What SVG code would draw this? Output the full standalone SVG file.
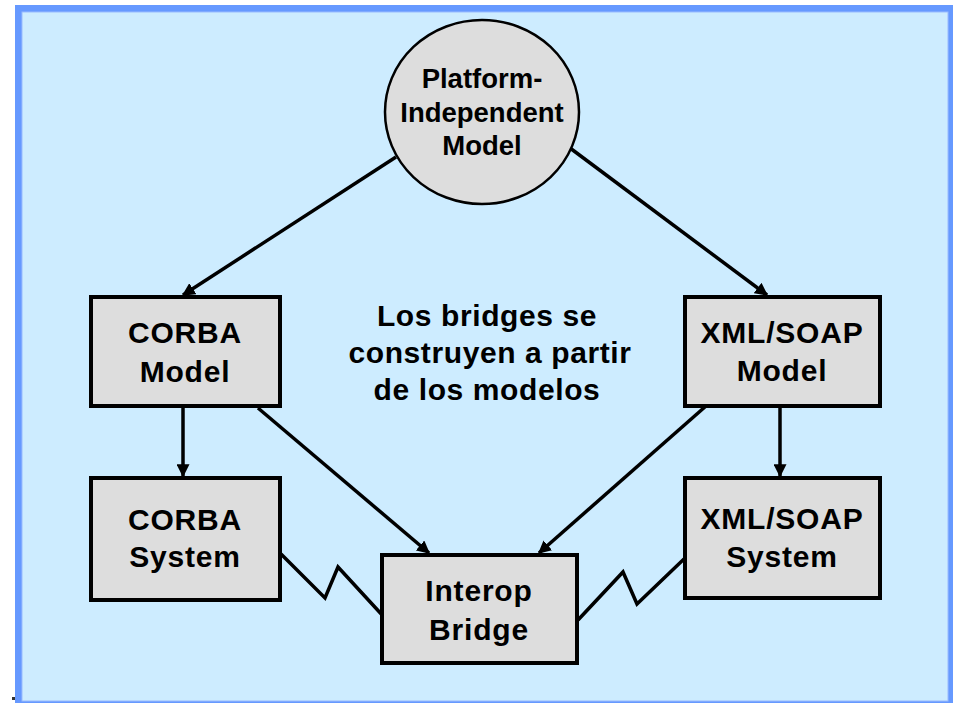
<svg xmlns="http://www.w3.org/2000/svg" width="953" height="703" viewBox="0 0 953 703">
<defs>
<style>
.box{fill:#dddddd;stroke:#000;stroke-width:4}
.ell{fill:#dddddd;stroke:#000;stroke-width:2.5}
.t{font-family:"Liberation Sans",Arial,sans-serif;font-weight:bold;fill:#000;text-anchor:middle}
.bt{font-size:30px;letter-spacing:0.8px}
.ct{font-size:27.5px}
.mt{font-size:30px;letter-spacing:0.6px}
.arr{fill:none;stroke:#000;stroke-width:3.5;marker-end:url(#ah)}
.zz{fill:none;stroke:#000;stroke-width:3.5;stroke-linejoin:miter}
</style>
<marker id="ah" viewBox="0 0 10 10" refX="9" refY="5" markerWidth="13" markerHeight="13" markerUnits="userSpaceOnUse" orient="auto">
<path d="M0,0 L10,5 L0,10 z" fill="#000"/>
</marker>
</defs>
<rect x="15" y="5" width="945" height="710" fill="#6699ff"/>
<rect x="22" y="12" width="926" height="689" fill="#cdecff" stroke="#99bbff" stroke-width="1"/>
<rect x="12" y="697" width="3" height="3" fill="#333"/>

<g id="connectors">
<line class="arr" x1="396" y1="157" x2="183" y2="295"/>
<line class="arr" x1="570" y1="148" x2="767" y2="295"/>
<line class="arr" x1="183" y1="407" x2="183" y2="476"/>
<line class="arr" x1="780" y1="406" x2="780" y2="476"/>
<line class="arr" x1="258" y1="408" x2="429" y2="553"/>
<line class="arr" x1="706" y1="406" x2="539" y2="553"/>
<polyline class="zz" points="281,554 325,598 338,567 384,617"/>
<polyline class="zz" points="578,620 623,572 637,604 684,559"/>
</g>

<g id="pim">
<ellipse class="ell" cx="482" cy="112" rx="97" ry="92"/>
<text class="t ct" x="482" y="88">Platform-</text>
<text class="t ct" x="482" y="122">Independent</text>
<text class="t ct" x="482" y="155">Model</text>
</g>

<g id="corba-model">
<rect class="box" x="91" y="297" width="189" height="109"/>
<text class="t bt" x="185" y="343">CORBA</text>
<text class="t bt" x="185" y="382">Model</text>
</g>

<g id="xml-model">
<rect class="box" x="685" y="297" width="195" height="109"/>
<text class="t bt" x="782" y="343">XML/SOAP</text>
<text class="t bt" x="782" y="381">Model</text>
</g>

<g id="corba-system">
<rect class="box" x="91" y="478" width="189" height="122"/>
<text class="t bt" x="185" y="530">CORBA</text>
<text class="t bt" x="185" y="567">System</text>
</g>

<g id="xml-system">
<rect class="box" x="685" y="478" width="195" height="120"/>
<text class="t bt" x="782" y="529">XML/SOAP</text>
<text class="t bt" x="782" y="567">System</text>
</g>

<g id="bridge">
<rect class="box" x="382" y="555" width="195" height="108"/>
<text class="t bt" x="479" y="601">Interop</text>
<text class="t bt" x="479" y="640">Bridge</text>
</g>

<g id="note">
<text class="t mt" x="487" y="326">Los bridges se</text>
<text class="t mt" x="490" y="363">construyen a partir</text>
<text class="t mt" x="487" y="400">de los modelos</text>
</g>
</svg>
